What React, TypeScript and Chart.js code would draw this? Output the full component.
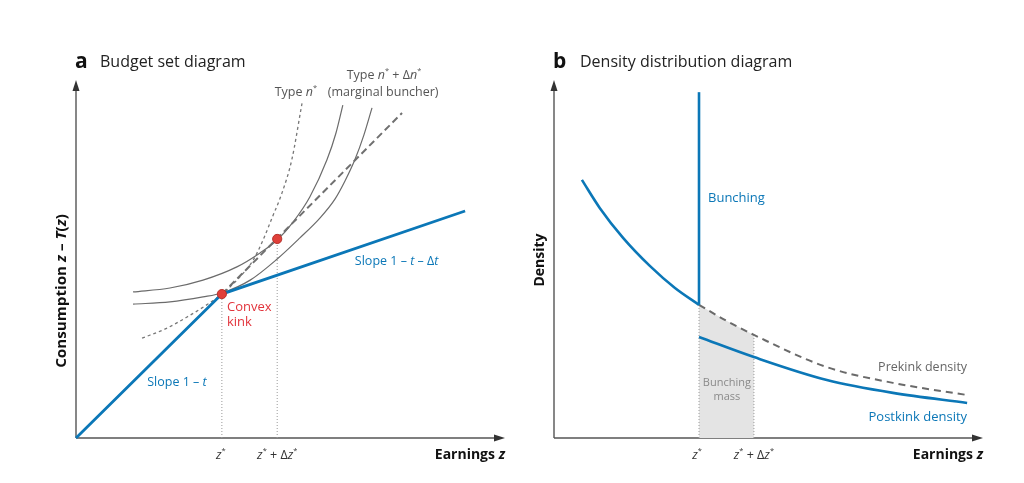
import React, { useEffect, useRef } from "react";
import { Chart, registerables } from "chart.js";
Chart.register(...registerables);

const FONT = "'Open Sans', 'Noto Sans', sans-serif";
const BLUE = "#0b77b7";
const GRAY = "#6b6b6b";
const RED = "#e0403a";
const AXIS = "#555555";

// ---------- Panel a: budget set ----------
const budgetZ = [0, 3.4, 9.07];
const budgetC = [0, 4.02, 6.34];
const linearZ = [3.4, 7.6];
const linearC = [4.02, 9.08];
const kinkZ = [3.4, 4.69];
const kinkC = [4.02, 5.56];
const typeNZ = [1.54, 2.07, 2.59, 3.01, 3.4, 3.82, 4.13, 4.36, 4.57, 4.8, 5.03, 5.27];
const typeNC = [2.79, 3.04, 3.38, 3.69, 4.02, 4.5, 4.97, 5.53, 6.15, 6.84, 7.77, 9.36];
const icHighZ = [1.33, 2.19, 2.96, 3.75, 4.29, 4.69, 5.06, 5.45, 5.85, 6.06, 6.22];
const icHighC = [4.08, 4.19, 4.41, 4.78, 5.17, 5.53, 6.03, 6.73, 7.77, 8.52, 9.3];
const icLowZ = [1.33, 2.19, 2.96, 3.4, 4.06, 4.69, 5.22, 5.69, 6.04, 6.27, 6.5, 6.71, 6.9];
const icLowC = [3.74, 3.8, 3.94, 4.05, 4.41, 5.0, 5.59, 6.15, 6.68, 7.18, 7.77, 8.46, 9.22];

// ---------- Panel b: density ----------
const preLeftZ = [0.65, 1.07, 1.61, 2.24, 2.82, 3.38];
const preLeftD = [7.21, 6.42, 5.59, 4.8, 4.19, 3.72];
const preRightZ = [3.38, 4.01, 4.66, 6.36, 7.9, 9.63];
const preRightD = [3.72, 3.28, 2.88, 1.98, 1.54, 1.2];
const postZ = [3.38, 4.66, 6.36, 7.9, 9.63];
const postD = [2.82, 2.26, 1.62, 1.26, 0.98];
const bunchZ = [3.38, 3.38];
const bunchD = [3.72, 9.66];
const massZ = preRightZ.slice(0, 3);
const massD = preRightD.slice(0, 3);
const kinkZB = [3.38, 4.66];

type Seg = { t: string; i?: boolean; sup?: boolean; w?: number };
const zStar: Seg[] = [{ t: "z", i: true }, { t: "*", sup: true }];
const zStarPlus: Seg[] = [
  { t: "z", i: true },
  { t: "*", sup: true },
  { t: " + Δ" },
  { t: "z", i: true },
  { t: "*", sup: true },
];

const pts = (xs: number[], ys: number[]) => xs.map((x, i) => ({ x, y: ys[i] }));

function rich(
  ctx: CanvasRenderingContext2D,
  segs: Seg[],
  x: number,
  y: number,
  size: number,
  color: string,
  align: "left" | "center" | "right" = "left",
  weight = 400
) {
  const font = (s: Seg) =>
    `${s.i ? "italic " : ""}${s.w ?? weight} ${s.sup ? size * 0.6 : size}px ${FONT}`;
  ctx.save();
  ctx.fillStyle = color;
  ctx.textBaseline = "middle";
  ctx.textAlign = "left";
  const widths = segs.map((s) => {
    ctx.font = font(s);
    return ctx.measureText(s.t).width;
  });
  const total = widths.reduce((a, b) => a + b, 0);
  let cx = align === "left" ? x : align === "center" ? x - total / 2 : x - total;
  segs.forEach((s, k) => {
    ctx.font = font(s);
    ctx.fillText(s.t, cx, s.sup ? y - size * 0.32 : y);
    cx += widths[k];
  });
  ctx.restore();
}

function drawAxes(ctx: CanvasRenderingContext2D, a: any) {
  ctx.save();
  ctx.strokeStyle = AXIS;
  ctx.fillStyle = "#333";
  ctx.lineWidth = 1.4;
  ctx.beginPath();
  ctx.moveTo(a.left, a.bottom);
  ctx.lineTo(a.left, a.top + 6);
  ctx.moveTo(a.left, a.bottom);
  ctx.lineTo(a.right - 6, a.bottom);
  ctx.stroke();
  ctx.beginPath();
  ctx.moveTo(a.left, a.top);
  ctx.lineTo(a.left - 3.5, a.top + 11);
  ctx.lineTo(a.left + 3.5, a.top + 11);
  ctx.closePath();
  ctx.fill();
  ctx.beginPath();
  ctx.moveTo(a.right, a.bottom);
  ctx.lineTo(a.right - 11, a.bottom - 3.5);
  ctx.lineTo(a.right - 11, a.bottom + 3.5);
  ctx.closePath();
  ctx.fill();
  ctx.restore();
}

function line(data: any[], color: string, width: number, dash: number[] = [], extra: any = {}) {
  return {
    data,
    borderColor: color,
    borderWidth: width,
    borderDash: dash,
    pointRadius: 0,
    fill: false,
    cubicInterpolationMode: "monotone",
    clip: false,
    ...extra,
  };
}

type Extras = (ctx: CanvasRenderingContext2D, x: any, y: any, a: any) => void;

function makeChart(
  canvas: HTMLCanvasElement,
  datasets: any[],
  padding: any,
  before: Extras,
  after: Extras
) {
  return new Chart(canvas, {
    type: "line",
    data: { datasets },
    options: {
      responsive: false,
      devicePixelRatio: 1,
      animation: false,
      events: [],
      layout: { padding },
      plugins: { legend: { display: false }, tooltip: { enabled: false } },
      scales: {
        x: { type: "linear", min: 0, max: 10, display: false },
        y: { type: "linear", min: 0, max: 10, display: false },
      },
    } as any,
    plugins: [
      {
        id: "decor",
        beforeDatasetsDraw(chart: any) {
          before(chart.ctx, chart.scales.x, chart.scales.y, chart.chartArea);
        },
        afterDatasetsDraw(chart: any) {
          after(chart.ctx, chart.scales.x, chart.scales.y, chart.chartArea);
        },
      },
    ],
  });
}

export default function App() {
  const refA = useRef<HTMLCanvasElement>(null);
  const refB = useRef<HTMLCanvasElement>(null);

  useEffect(() => {
    const dotted = "#9a9a9a";
    const chartA = makeChart(
      refA.current!,
      [
        {
          data: pts(kinkZ, kinkC),
          showLine: false,
          pointRadius: 4.6,
          pointBackgroundColor: RED,
          pointBorderColor: "#b5302a",
          pointBorderWidth: 1,
          clip: false,
        },
        line(pts(budgetZ, budgetC), BLUE, 2.8, [], { cubicInterpolationMode: "default", tension: 0 }),
        line(pts(linearZ, linearC), "#707070", 2, [7, 4], { cubicInterpolationMode: "default", tension: 0 }),
        line(pts(icHighZ, icHighC), GRAY, 1.2),
        line(pts(icLowZ, icLowC), GRAY, 1.2),
        line(pts(typeNZ, typeNC), "#777777", 1.3, [3, 3]),
        line(pts([kinkZ[0], kinkZ[0]], [0, kinkC[0]]), dotted, 1, [1, 2], { tension: 0, cubicInterpolationMode: "default" }),
        line(pts([kinkZ[1], kinkZ[1]], [0, kinkC[1]]), dotted, 1, [1, 2], { tension: 0, cubicInterpolationMode: "default" }),
      ],
      { left: 76, right: 7, top: 80, bottom: 45 },
      (ctx, x, y, a) => drawAxes(ctx, a),
      (ctx, x, y, a) => {
        rich(ctx, [{ t: "a" }], a.left - 1, 62, 21, "#111", "left", 700);
        rich(ctx, [{ t: "Budget set diagram" }], a.left + 24, 62, 16, "#222");
        ctx.save();
        ctx.translate(a.left - 14, 291);
        ctx.rotate(-Math.PI / 2);
        ctx.scale(1.05, 1);
        rich(
          ctx,
          [{ t: "Consumption " }, { t: "z", i: true }, { t: " – " }, { t: "T", i: true }, { t: "(" }, { t: "z", i: true }, { t: ")" }],
          0,
          0,
          14.5,
          "#111",
          "center",
          700
        );
        ctx.restore();
        rich(ctx, [{ t: "Earnings " }, { t: "z", i: true }], a.right, a.bottom + 17, 14, "#111", "right", 700);
        rich(ctx, zStar, x.getPixelForValue(kinkZ[0]) - 1, a.bottom + 17, 12.5, "#333", "center");
        rich(ctx, zStarPlus, x.getPixelForValue(kinkZ[1]), a.bottom + 17, 12.5, "#333", "center");
        rich(ctx, [{ t: "Type " }, { t: "n", i: true }, { t: "*", sup: true }], x.getPixelForValue(5.62), y.getPixelForValue(9.66), 12.5, "#555", "right");
        rich(
          ctx,
          [{ t: "Type " }, { t: "n", i: true }, { t: "*", sup: true }, { t: " + Δ" }, { t: "n", i: true }, { t: "*", sup: true }],
          x.getPixelForValue(7.18),
          y.getPixelForValue(10.14),
          12.5,
          "#555",
          "center"
        );
        rich(ctx, [{ t: "(marginal buncher)" }], x.getPixelForValue(7.16), y.getPixelForValue(9.66), 12.5, "#555", "center");
        rich(ctx, [{ t: "Convex" }], x.getPixelForValue(3.52), y.getPixelForValue(3.66), 13, "#e2343c");
        rich(ctx, [{ t: "kink" }], x.getPixelForValue(3.52), y.getPixelForValue(3.24), 13, "#e2343c");
        rich(
          ctx,
          [{ t: "Slope 1 – " }, { t: "t", i: true }, { t: " – Δ" }, { t: "t", i: true }],
          x.getPixelForValue(6.5),
          y.getPixelForValue(4.92),
          12.5,
          BLUE
        );
        rich(ctx, [{ t: "Slope 1 – " }, { t: "t", i: true }], x.getPixelForValue(1.66), y.getPixelForValue(1.56), 12.5, BLUE);
      }
    );

    const chartB = makeChart(
      refB.current!,
      [
        line(pts(bunchZ, bunchD), BLUE, 2.6, [], { tension: 0, cubicInterpolationMode: "default" }),
        line(pts(preLeftZ, preLeftD), BLUE, 2.6),
        line(pts(postZ, postD), BLUE, 2.6),
        line(pts(preRightZ, preRightD), "#6a6a6a", 2, [7, 5]),
        line(pts([kinkZB[0], kinkZB[0]], [0, preRightD[0]]), dotted, 1, [1, 2], { tension: 0, cubicInterpolationMode: "default" }),
        line(pts([kinkZB[1], kinkZB[1]], [0, preRightD[2]]), dotted, 1, [1, 2], { tension: 0, cubicInterpolationMode: "default" }),
        line(pts(massZ, massD), "rgba(0,0,0,0)", 0, [], { fill: "origin", backgroundColor: "#e4e4e4" }),
      ],
      { left: 42, right: 41, top: 80, bottom: 45 },
      (ctx, x, y, a) => drawAxes(ctx, a),
      (ctx, x, y, a) => {
        rich(ctx, [{ t: "b" }], a.left - 1, 62, 21, "#111", "left", 700);
        rich(ctx, [{ t: "Density distribution diagram" }], a.left + 26, 62, 16, "#222");
        ctx.save();
        ctx.translate(a.left - 14, 260);
        ctx.rotate(-Math.PI / 2);
        rich(ctx, [{ t: "Density" }], 0, 0, 14, "#111", "center", 700);
        ctx.restore();
        rich(ctx, [{ t: "Earnings " }, { t: "z", i: true }], a.right, a.bottom + 17, 14, "#111", "right", 700);
        rich(ctx, zStar, x.getPixelForValue(kinkZB[0]) - 2, a.bottom + 17, 12.5, "#333", "center");
        rich(ctx, zStarPlus, x.getPixelForValue(kinkZB[1]), a.bottom + 17, 12.5, "#333", "center");
        rich(ctx, [{ t: "Bunching" }], x.getPixelForValue(3.59), y.getPixelForValue(6.7), 13, BLUE);
        rich(ctx, [{ t: "Bunching" }], x.getPixelForValue(4.03), y.getPixelForValue(1.54), 11, "#8a8a8a", "center");
        rich(ctx, [{ t: "mass" }], x.getPixelForValue(4.03), y.getPixelForValue(1.15), 11, "#8a8a8a", "center");
        rich(ctx, [{ t: "Prekink density" }], x.getPixelForValue(9.63), y.getPixelForValue(1.98), 12.5, "#666", "right");
        rich(ctx, [{ t: "Postkink density" }], x.getPixelForValue(9.63), y.getPixelForValue(0.59), 13, BLUE, "right");
      }
    );

    return () => {
      chartA.destroy();
      chartB.destroy();
    };
  }, []);

  return (
    <div style={{ position: "absolute", left: 0, top: 0, width: 1024, height: 483, background: "#fff" }}>
      <canvas ref={refA} width={512} height={483} style={{ position: "absolute", left: 0, top: 0 }} />
      <canvas ref={refB} width={512} height={483} style={{ position: "absolute", left: 512, top: 0 }} />
    </div>
  );
}
